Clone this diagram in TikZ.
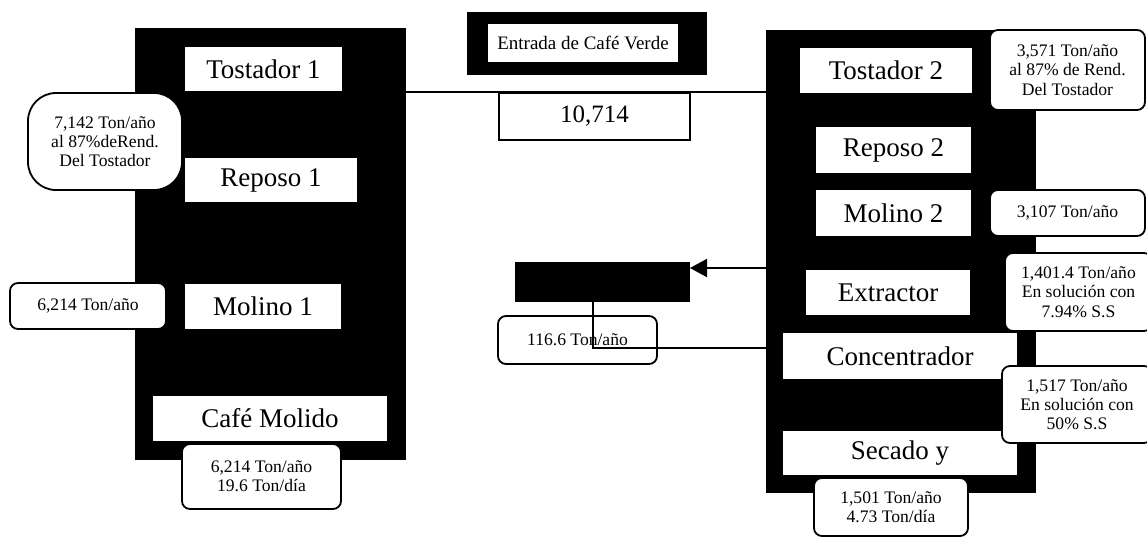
\documentclass[tikz,border=0pt]{standalone}
\usepackage{fontspec}
\setmainfont{Liberation Serif}
\usepackage{tikz}
\usetikzlibrary{arrows.meta,positioning}

\begin{document}
\begin{tikzpicture}[x=0.5pt, y=-0.5pt,
        blk/.style={fill=black, inner sep=0pt},
        etapa/.style={fill=white, inner sep=0pt, font=\fontsize{13.5}{15}\selectfont},
        dato/.style={draw, fill=white, line width=0.9pt, rounded corners=4pt,
          inner sep=0pt, align=center, font=\fontsize{8.8}{9.6}\selectfont},
        linea/.style={line width=1pt}
      ]
        \useasboundingbox (0,0) rectangle (1147,538);

        % Linea 1
        \node[blk, minimum width=135.5pt, minimum height=216pt] (lblk) at (270.5,244) {};
        \node[etapa, minimum width=78.5pt, minimum height=22pt] (tost1) at (263.5,69)
          {Tostador 1};
        \node[etapa, minimum width=86pt, minimum height=22pt] (rep1) at (271,180)
          {Reposo 1};
        \node[etapa, minimum width=78pt, minimum height=22.5pt] (mol1) at (263,306.5)
          {Molino 1};
        \node[etapa, minimum width=117pt, minimum height=22.5pt] (cafe) at (270,418.5)
          {Café Molido};

        \node[dato, rounded corners=14pt, minimum width=77pt, minimum height=48.5pt]
          (d7142) at (105,141.5) {7,142 Ton/año\\al 87\%deRend.\\Del Tostador};
        \node[dato, minimum width=78pt, minimum height=23pt] (d6214) at (88,306)
          {6,214 Ton/año};
        \node[dato, minimum width=79.5pt, minimum height=32.5pt] (sal1) at (261.5,476.5)
          {6,214 Ton/año\\19.6 Ton/día};

        % Entrada
        \node[blk, minimum width=120pt, minimum height=31.5pt] (ent) at (587,43.5) {};
        \node[fill=white, inner sep=0pt, minimum width=95pt, minimum height=19pt,
          font=\fontsize{9.5}{11}\selectfont] (entin) at (583,43) {Entrada de Café Verde};
        \node[draw, fill=white, line width=0.9pt, inner sep=0pt, minimum width=95.5pt,
          minimum height=23.5pt, font=\fontsize{12.5}{14}\selectfont] (total) at (594.5,116.5)
          {10,714};

        % Linea 2
        \node[blk, minimum width=135pt, minimum height=231.5pt] (rblk) at (901,261.5) {};
        \node[etapa, minimum width=86pt, minimum height=22.5pt] (tost2) at (886,70.5)
          {Tostador 2};
        \node[etapa, minimum width=77.5pt, minimum height=23pt] (rep2) at (893.5,150)
          {Reposo 2};
        \node[etapa, minimum width=77.5pt, minimum height=23pt] (mol2) at (893.5,213)
          {Molino 2};
        \node[etapa, minimum width=82pt, minimum height=22.5pt] (extr) at (888,292.5)
          {Extractor};
        \node[etapa, minimum width=117pt, minimum height=23pt] (conc) at (900,356)
          {Concentrador};
        \node[etapa, minimum width=117pt, minimum height=22pt] (sec) at (900,453)
          {Secado y};

        \node[dato, minimum width=77.5pt, minimum height=40pt] (d3571) at (1067.5,70)
          {3,571 Ton/año\\al 87\% de Rend.\\Del Tostador};
        \node[dato, minimum width=77.5pt, minimum height=23pt] (d3107) at (1067.5,213)
          {3,107 Ton/año};
        \node[dato, minimum width=73.5pt, minimum height=39pt] (d1401) at (1078.5,292)
          {1,401.4 Ton/año\\En solución con\\7.94\% S.S};
        \node[dato, minimum width=75pt, minimum height=38.5pt] (d1517) at (1077,404.5)
          {1,517 Ton/año\\En solución con\\50\% S.S};
        \node[dato, minimum width=77pt, minimum height=29pt] (sal2) at (891,507)
          {1,501 Ton/año\\4.73 Ton/día};

        % Residuo
        \node[blk, minimum width=87.5pt, minimum height=20pt] (res) at (602.5,282) {};
        \node[dato, minimum width=79.5pt, minimum height=24pt] (d116) at (577.5,340)
          {116.6 Ton/año};
        \coordinate (llega) at (690,268);
        \coordinate (vuelta) at (593,348);

        % Lineas
        \draw[linea] (lblk.east |- total.north) -- (rblk.west |- total.north);
        \draw[linea, -{Triangle[length=8.5pt, width=9pt]}] (rblk.west |- llega) -- (llega);
        \draw[linea] (res.south -| vuelta) -- (vuelta) -- (rblk.west |- vuelta);
      \end{tikzpicture}
\end{document}
